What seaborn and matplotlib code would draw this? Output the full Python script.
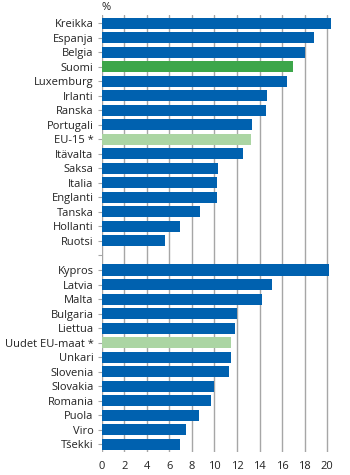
import numpy as np
import pandas as pd
import matplotlib
matplotlib.use("Agg")
import matplotlib.pyplot as plt
import seaborn as sns

old_members = ["Kreikka", "Espanja", "Belgia", "Suomi", "Luxemburg", "Irlanti", "Ranska",
               "Portugali", "EU-15 *", "Itävalta", "Saksa", "Italia", "Englanti", "Tanska",
               "Hollanti", "Ruotsi"]
old_values = [20.3, 18.8, 18.0, 17.0, 16.4, 14.7, 14.6, 13.3, 13.2, 12.5, 10.3, 10.2, 10.2,
              8.7, 6.9, 5.6]
new_members = ["Kypros", "Latvia", "Malta", "Bulgaria", "Liettua", "Uudet EU-maat *", "Unkari",
               "Slovenia", "Slovakia", "Romania", "Puola", "Viro", "Tšekki"]
new_values = [20.2, 15.1, 14.2, 12.0, 11.8, 11.5, 11.5, 11.3, 10.0, 9.7, 8.6, 7.5, 6.9]
xticks = list(range(0, 21, 2))

blue = "#0061AF"
green = "#3DA64A"
light_green = "#ABD5A3"

# blank row separates the two groups
categories = old_members + [" "] + new_members
values = old_values + [0.0] + new_values
df = pd.DataFrame({"maa": categories, "arvo": values})

palette = {c: blue for c in categories}
palette["Suomi"] = green
palette["EU-15 *"] = light_green
palette["Uudet EU-maat *"] = light_green

sns.set_style("white")
plt.rcParams["font.family"] = ["Open Sans", "DejaVu Sans"]
fs = 8.0

fig = plt.figure(figsize=(3.5, 4.75), dpi=100)
ax = fig.add_axes([0.291, 0.048, 0.663, 0.920])

sns.barplot(data=df, x="arvo", y="maa", hue="maa", palette=palette, legend=False,
            orient="h", width=0.76, linewidth=0, saturation=1, ax=ax, zorder=3)

ax.set_xlim(0, 20.6)
ax.set_ylim(len(categories) - 0.45, -0.55)
ax.set_xticks(xticks)
ax.xaxis.grid(True, color="#a6a6a6", linewidth=1.0, zorder=0)
ax.yaxis.grid(False)
ax.set_axisbelow(True)
for s in ax.spines.values():
    s.set_visible(False)

ax.tick_params(axis="y", length=3, width=0.8, color="#a6a6a6", pad=3, labelsize=fs,
               labelcolor="#222222", left=True)
ax.tick_params(axis="x", length=0, pad=6, labelsize=fs, labelcolor="#222222")
ax.set_xlabel("")
ax.set_ylabel("")

fig.text(0.291, 0.972, "%", fontsize=fs, color="#222222", va="bottom")

fig.savefig("out.png", dpi=100)
